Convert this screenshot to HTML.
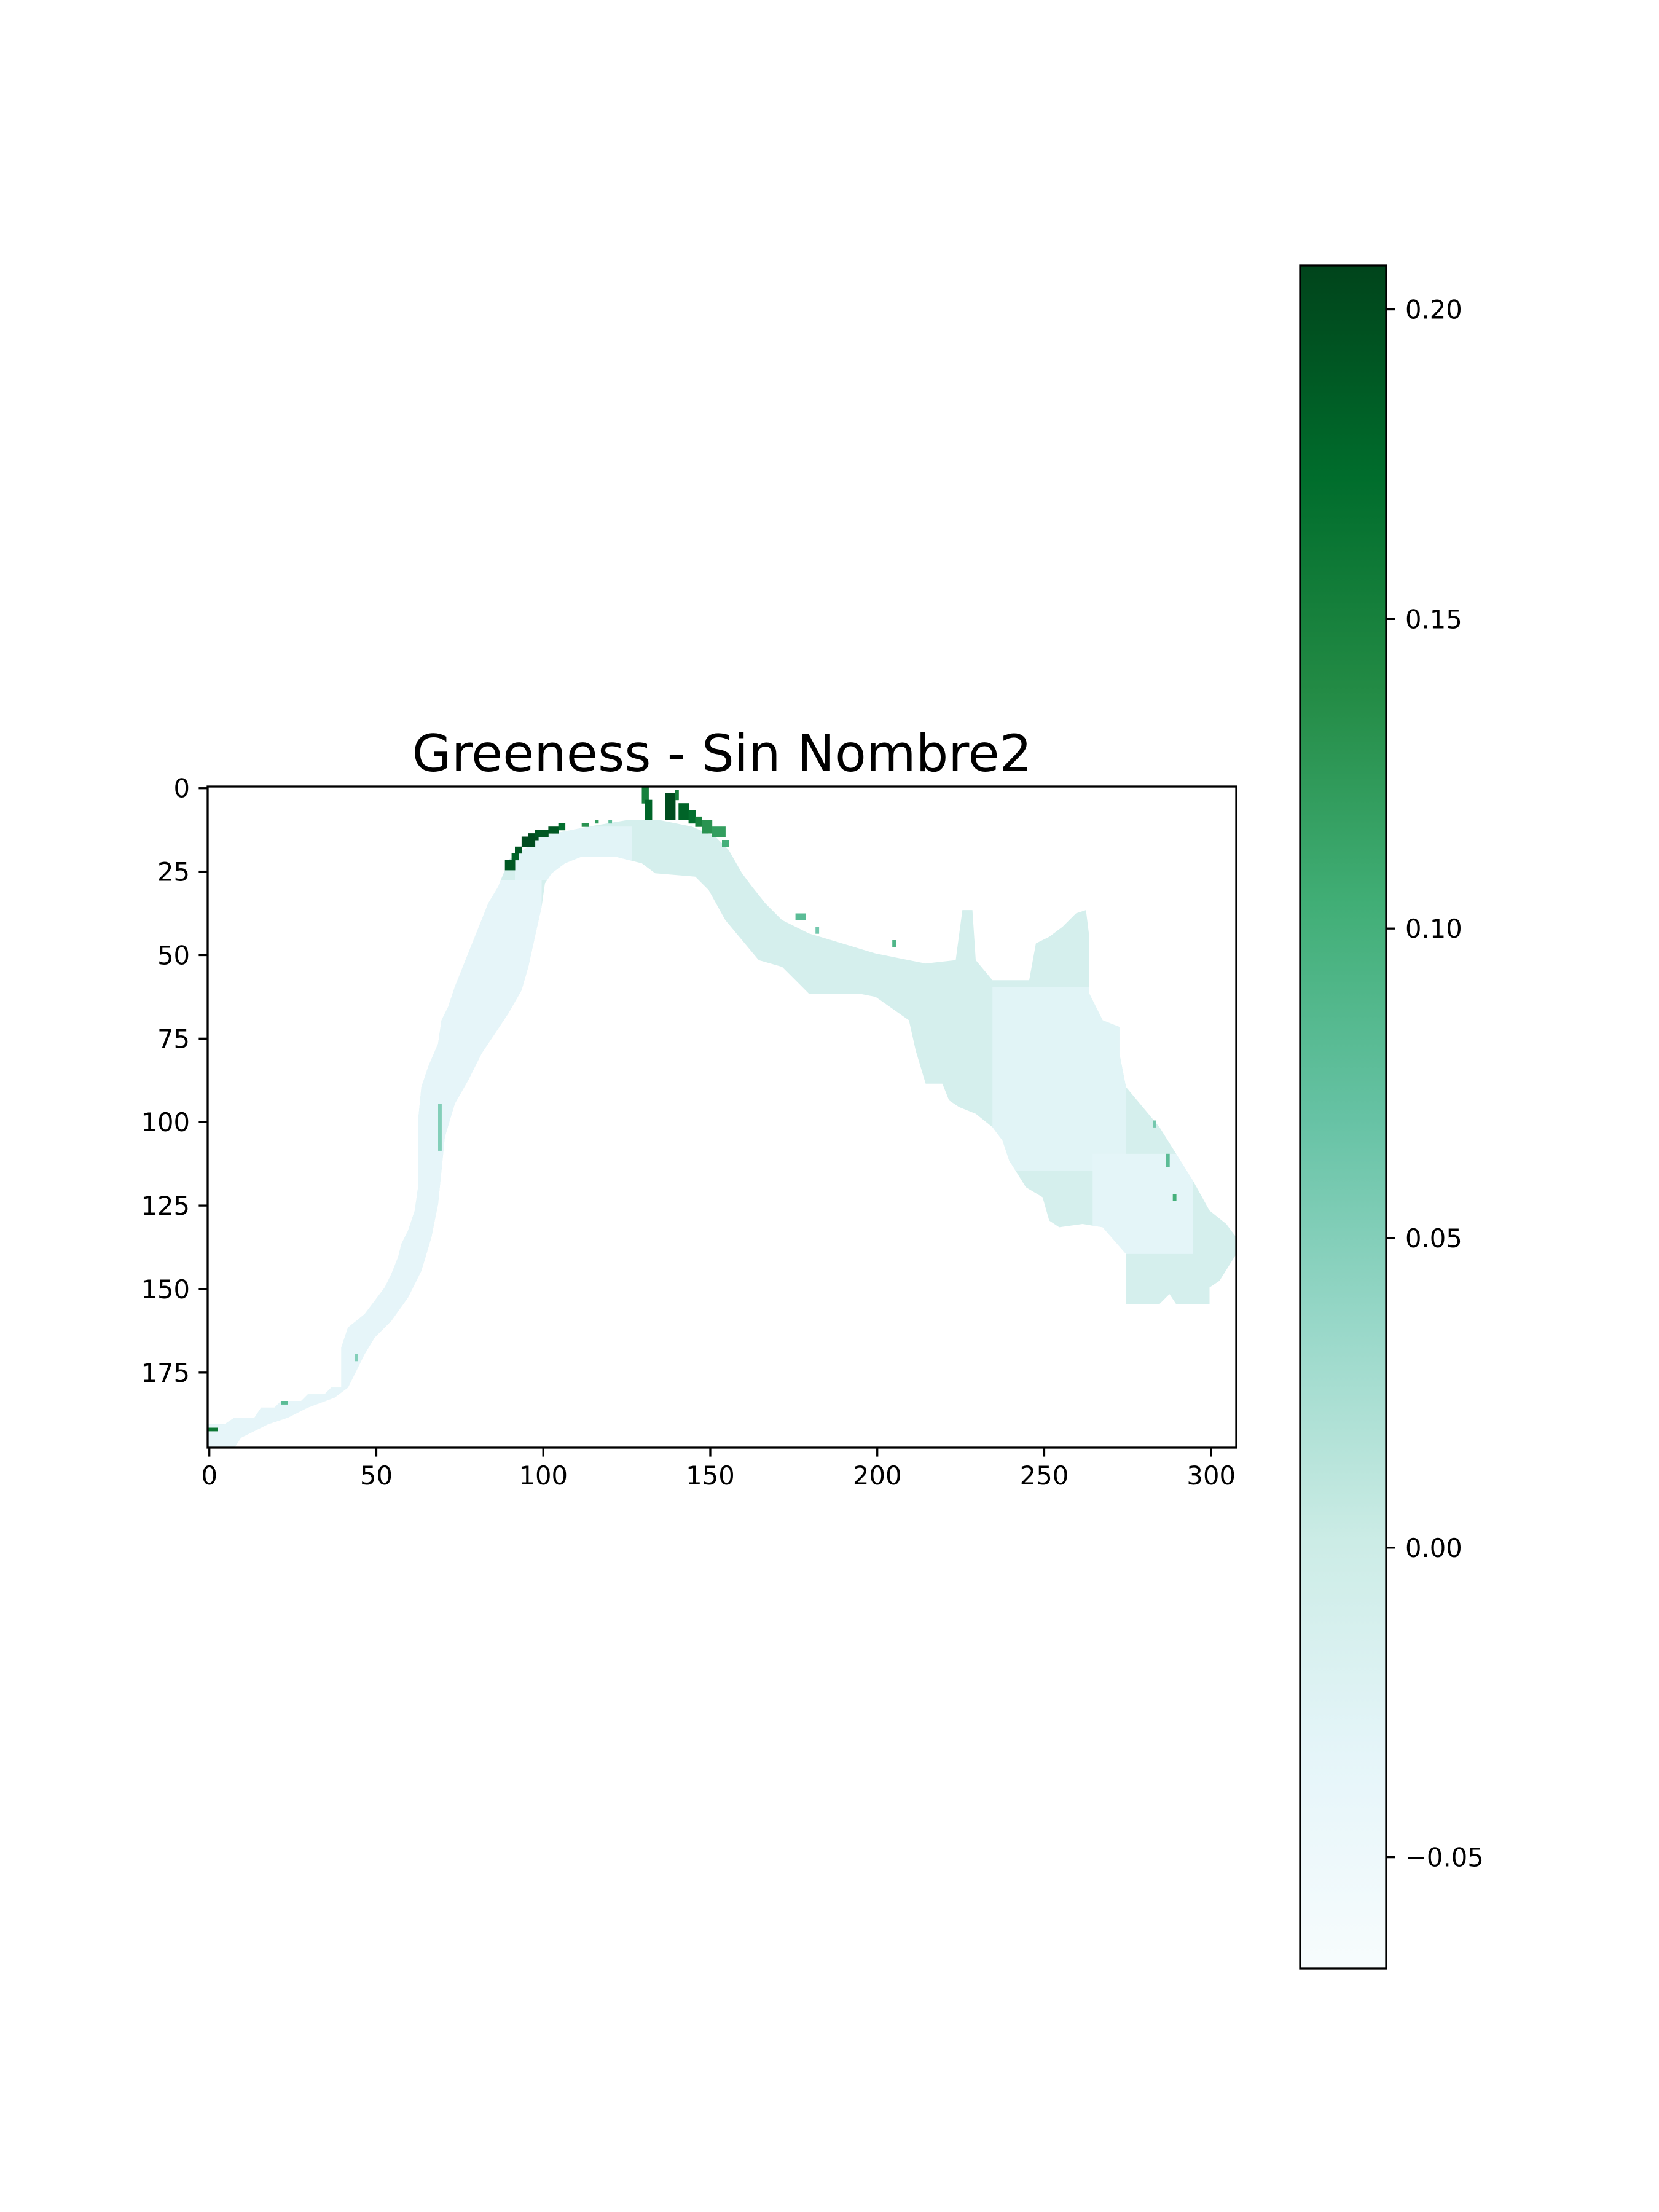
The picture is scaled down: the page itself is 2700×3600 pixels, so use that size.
<!DOCTYPE html>
<html><head><meta charset="utf-8"><style>
html,body{margin:0;padding:0;background:#fff;}
svg{display:block;}
text{font-family:"DejaVu Sans","Liberation Sans",sans-serif;fill:#000;}
</style></head><body>
<svg id="fig" width="2700" height="3600" viewBox="0 0 2700 3600" xmlns="http://www.w3.org/2000/svg">
<rect width="2700" height="3600" fill="#fff"/>
<defs><linearGradient id="cbgrad" x1="0" y1="1" x2="0" y2="0"></linearGradient><clipPath id="axclip"><rect x="338" y="1280" width="1674" height="1076"/></clipPath><clipPath id="riverclip"></clipPath></defs>
<text x="1175" y="1255" font-size="83" text-anchor="middle">Greeness - Sin Nombre2</text>
<g id="heat" clip-path="url(#axclip)"></g>
<rect x="338" y="1280" width="1674" height="1076" fill="none" stroke="#000" stroke-width="3.3"/>
<g id="xticks"></g>
<g id="yticks"></g>
<rect id="cbar" x="2116" y="432" width="140" height="2772" fill="url(#cbgrad)" stroke="#000" stroke-width="3.3"/>
<g id="cbticks"></g>
</svg>
<script>
const xTicks=[0,50,100,150,200,250,300];
const yTicks=[0,25,50,75,100,125,150,175];
const cbTicks=[0.20,0.15,0.10,0.05,0.00,-0.05];
const cbTickLabels=["0.20","0.15","0.10","0.05","0.00","\u22120.05"];
const vmin=-0.068, vmax=0.2071;
const bodyValue=-0.012;
const riverOutline=[[0,198],[0,191],[5,191],[8,189],[14,189],[16,186],[20,186],[22,184],[28,184],[30,182],[35,182],[37,180],[40,180],[40,168],[42,162],[47,158],[50,154],[53,150],[55,146],[57,141],[58,137],[60,133],[62,127],[63,120],[63,100],[64,90],[66,84],[69,77],[70,70],[72,66],[74,60],[76,55],[78,50],[80,45],[82,40],[84,35],[87,30],[89,25],[90,22],[96,18],[98,15],[104,14],[114,12],[126,10],[135,10],[145,12],[152,15],[156,19],[160,26],[163,30],[167,35],[172,40],[180,44],[190,47],[200,50],[215,53],[224,52],[226,37],[229,37],[230,52],[235,58],[246,58],[248,47],[252,45],[256,42],[260,38],[263,37],[264,45],[264,62],[268,70],[273,72],[273,80],[275,90],[280,96],[285,102],[290,110],[295,118],[300,127],[305,131],[308,135],[308,140],[303,148],[300,150],[300,155],[290,155],[288,152],[285,155],[275,155],[275,140],[268,132],[262,131],[255,132],[252,130],[250,123],[245,120],[240,112],[238,106],[235,102],[230,98],[225,96],[222,94],[220,89],[215,89],[212,79],[210,70],[200,63],[195,62],[190,62],[180,62],[176,58],[172,54],[165,52],[160,46],[155,40],[150,31],[146,27],[134,26],[130,23],[122,21],[112,21],[107,23],[103,26],[101,29],[100,36],[98,45],[96,54],[94,61],[90,68],[86,74],[82,80],[78,88],[74,95],[71,105],[70,115],[69,125],[67,135],[64,145],[60,153],[55,160],[50,165],[47,170],[44,176],[42,180],[38,183],[30,186],[24,189],[18,191],[14,193],[10,195],[8,198]];
const patchCols=[0,92,235,265];
const patchRows=[28,12,60,110];
const patchW=[100,35,40,30];
const patchH=[170,16,55,30];
const patchVals=[-0.035,-0.03,-0.028,-0.032];
const greenCols=[89,91,92,94,96,98,102,105,112,116,120,130,131,137,140,141,144,146,148,151,154,176,182,205,69,0,22,287,289,44,283];
const greenRows=[22,20,18,15,14,13,12,11,11,10,10,0,4,2,1,5,7,9,10,12,16,38,42,46,95,192,184,110,122,170,100];
const greenW=[3,2,2,4,3,4,3,2,2,1,1,2,2,3,1,3,2,2,3,4,2,3,1,1,1,3,2,1,1,1,1];
const greenH=[3,2,2,3,2,2,2,2,1,1,1,5,6,8,3,5,4,3,4,3,2,2,2,2,14,1,1,4,2,2,2];
const greenVals=[0.19,0.18,0.19,0.20,0.20,0.19,0.19,0.17,0.13,0.12,0.08,0.15,0.18,0.20,0.15,0.18,0.17,0.15,0.13,0.12,0.10,0.08,0.06,0.09,0.05,0.16,0.08,0.08,0.10,0.05,0.06];

const NS="http://www.w3.org/2000/svg";
const AX={x0:338,y0:1280,cell:5.435};
const CB={top:432,bottom:3204};
const X=c=>AX.x0+c*AX.cell;
const Y=r=>AX.y0+r*AX.cell;
const XC=c=>AX.x0+(c+0.5)*AX.cell;
const YC=r=>AX.y0+(r+0.5)*AX.cell;
const CBY=v=>CB.bottom-(v-vmin)/(vmax-vmin)*(CB.bottom-CB.top);
const stops=[[247,252,253],[229,245,249],[204,236,230],[153,216,201],[102,194,164],[65,174,118],[35,139,69],[0,109,44],[0,68,27]];
function cmap(v){let t=(v-vmin)/(vmax-vmin);t=Math.max(0,Math.min(1,t))*8;const i=Math.min(7,Math.floor(t)),f=t-i;const a=stops[i],b=stops[i+1];return 'rgb('+a.map((x,k)=>Math.round(x+(b[k]-x)*f)).join(',')+')';}
function el(tag,attrs,parent){const e=document.createElementNS(NS,tag);for(const k in attrs)e.setAttribute(k,attrs[k]);parent.appendChild(e);return e;}

const grad=document.getElementById('cbgrad');
for(let i=0;i<=8;i++){el('stop',{offset:(i/8),'stop-color':'rgb('+stops[i].join(',')+')'},grad);}

const pts=riverOutline.map(p=>X(p[0]).toFixed(1)+','+Y(p[1]).toFixed(1)).join(' ');
el('polygon',{points:pts},document.getElementById('riverclip'));
const heat=document.getElementById('heat');
const river=el('polygon',{points:pts,fill:cmap(bodyValue)},heat);


const pg=el('g',{'clip-path':'url(#riverclip)'},heat);
for(let i=0;i<patchCols.length;i++){
  const r=el('rect',{x:X(patchCols[i]),y:Y(patchRows[i]),width:patchW[i]*AX.cell,height:patchH[i]*AX.cell,fill:cmap(patchVals[i])},pg);
  
  
}
for(let i=0;i<greenCols.length;i++){
  const r=el('rect',{x:X(greenCols[i]).toFixed(1),y:Y(greenRows[i]).toFixed(1),width:(greenW[i]*AX.cell+0.5).toFixed(1),height:(greenH[i]*AX.cell+0.5).toFixed(1),fill:cmap(greenVals[i])},heat);
  
  
}
const xg=document.getElementById('xticks');
xTicks.forEach(v=>{
  const l=el('line',{x1:XC(v),x2:XC(v),y1:2356,y2:2370.6,stroke:'#000','stroke-width':3.3},xg);
  
  
  const t=el('text',{x:XC(v),y:2416,'font-size':41.7,'text-anchor':'middle'},xg);t.textContent=v;
  
  
});
const yg=document.getElementById('yticks');
yTicks.forEach(v=>{
  const l=el('line',{x1:323.4,x2:338,y1:YC(v),y2:YC(v),stroke:'#000','stroke-width':3.3},yg);
  
  
  const t=el('text',{x:309,y:YC(v)+15,'font-size':41.7,'text-anchor':'end'},yg);t.textContent=v;
  
  
});
const cg=document.getElementById('cbticks');
cbTicks.forEach((v,i)=>{
  const l=el('line',{x1:2256,x2:2270.6,y1:CBY(v),y2:CBY(v),stroke:'#000','stroke-width':3.3},cg);
  
  
  const t=el('text',{x:2287,y:CBY(v)+15,'font-size':41.7},cg);t.textContent=cbTickLabels[i];
  
  
});
</script>
</body></html>
